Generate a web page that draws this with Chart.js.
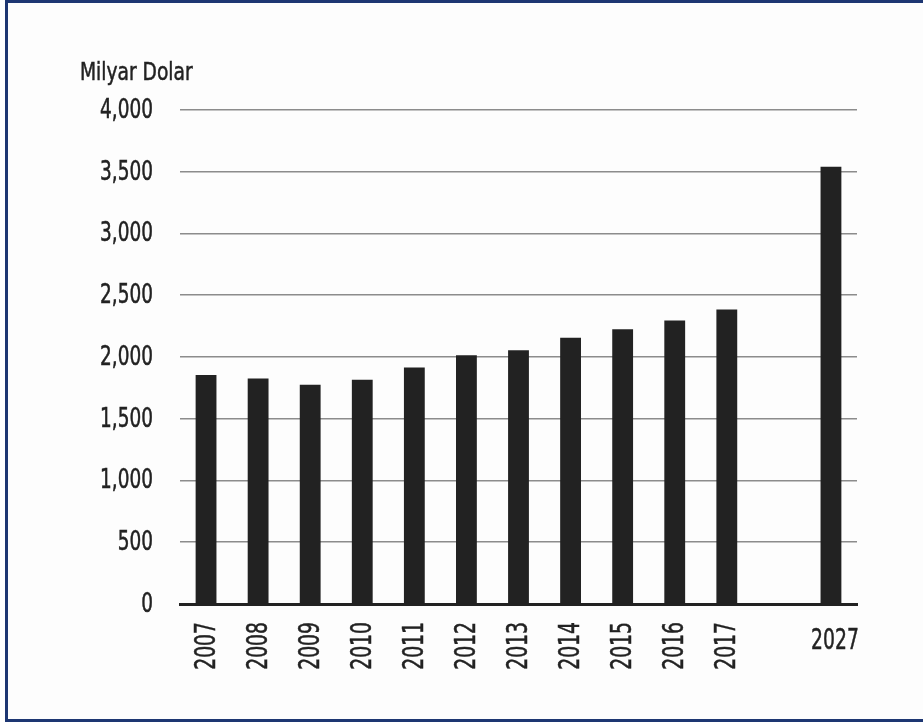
<!DOCTYPE html>
<html>
<head>
<meta charset="utf-8">
<script src="https://cdn.jsdelivr.net/npm/chart.js@4/dist/chart.umd.min.js"></script>
<style>
  html, body { margin: 0; padding: 0; background: #fff; }
  body { width: 923px; height: 722px; overflow: hidden; position: relative; }
  #frame {
    position: absolute; left: 5px; top: 0px; width: 940px; height: 716px;
    border: 3px solid #1d3672; background: #fdfdfd;
  }
  #wrap { position: absolute; left: 0; top: 0; width: 923px; height: 722px; }
</style>
</head>
<body>
<div id="frame"></div>
<div id="wrap"><canvas id="c" width="923" height="722"></canvas></div>
<script>
// Years on the category axis; the blank slot separates the 2027 projection.
const years = ['2007', '2008', '2009', '2010', '2011', '2012', '2013', '2014', '2015', '2016', '2017', '', '2027'];
// Spending in billions of dollars per year.
const values = [1855, 1825, 1775, 1815, 1915, 2015, 2055, 2155, 2225, 2295, 2385, null, 3540];
const yTicks = [0, 500, 1000, 1500, 2000, 2500, 3000, 3500, 4000];
const unitLabel = 'Milyar Dolar';

const FONT = '"DejaVu Sans Condensed", "DejaVu Sans", sans-serif';
const INK = '#222222';

// Condensed text: squeeze glyphs horizontally around the anchor point,
// with a thin outline for a medium weight.
function narrowText(ctx, text, x, y, sx, align, baseline) {
  ctx.save();
  ctx.translate(x, y);
  ctx.scale(sx, 1);
  ctx.textAlign = align;
  ctx.textBaseline = baseline;
  ctx.fillText(text, 0, 0);
  ctx.strokeText(text, 0, 0);
  ctx.restore();
}

// Draws the unit label, the value ticks and the year labels
// (rotated for the yearly bars, flat for the projection).
const labelPlugin = {
  id: 'labels',
  afterDraw(chart) {
    const ctx = chart.ctx;
    const x = chart.scales.x;
    const y = chart.scales.y;
    const area = chart.chartArea;
    ctx.save();
    ctx.fillStyle = INK;
    ctx.strokeStyle = INK;
    ctx.lineWidth = 0.5;

    ctx.font = '25px ' + FONT;
    narrowText(ctx, unitLabel, 80, 80, 0.83, 'left', 'alphabetic');

    ctx.font = '26px ' + FONT;
    yTicks.forEach(v => {
      narrowText(ctx, v.toLocaleString('en-US'), 153, y.getPixelForValue(v) + 1, 0.79, 'right', 'middle');
    });

    ctx.font = '29px ' + FONT;
    years.forEach((yr, i) => {
      if (!yr) return;
      const px = x.getPixelForTick(i);
      if (i === years.length - 1) {
        narrowText(ctx, yr, px + 4, area.bottom + 37, 0.72, 'center', 'middle');
      } else {
        ctx.save();
        ctx.translate(px + 1, area.bottom + 18);
        ctx.rotate(-Math.PI / 2);
        narrowText(ctx, yr, 0, 0, 0.72, 'right', 'middle');
        ctx.restore();
      }
    });
    ctx.restore();
  }
};

new Chart(document.getElementById('c'), {
  type: 'bar',
  data: {
    labels: years,
    datasets: [{
      data: values,
      backgroundColor: INK,
      borderWidth: 0,
      categoryPercentage: 1.0,
      barPercentage: 0.40
    }]
  },
  options: {
    responsive: false,
    animation: false,
    devicePixelRatio: 1,
    layout: { padding: { left: 0, top: 110, right: 66, bottom: 118 } },
    plugins: { legend: { display: false }, tooltip: { enabled: false } },
    scales: {
      x: {
        grid: { display: false, drawTicks: false },
        border: { display: true, color: INK, width: 3 },
        ticks: { display: false },
        afterFit(scale) { scale.height = 0; }
      },
      y: {
        min: 0,
        max: 4000,
        afterBuildTicks(scale) { scale.ticks = yTicks.map(v => ({ value: v })); },
        afterFit(scale) { scale.width = 180; },
        border: { display: false },
        grid: {
          drawTicks: false,
          color: ctx => ctx.tick && ctx.tick.value === 0 ? 'rgba(0,0,0,0)' : '#8c8c8c',
          lineWidth: 1.6
        },
        ticks: { display: false }
      }
    }
  },
  plugins: [labelPlugin]
});
</script>
</body>
</html>
